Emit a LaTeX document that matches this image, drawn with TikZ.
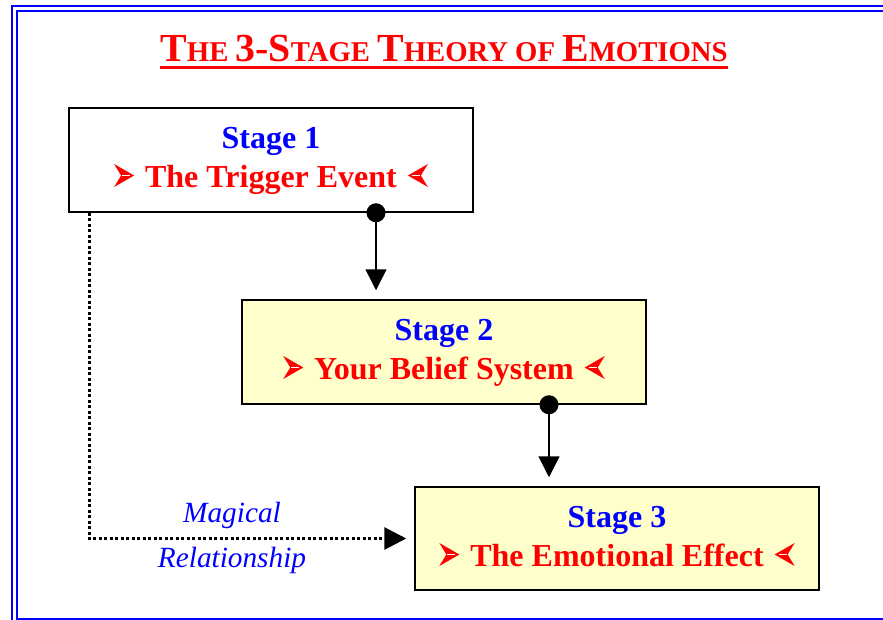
\documentclass[tikz,border=0pt]{standalone}
\usepackage{fontspec}
\setmainfont{Liberation Serif}
\usetikzlibrary{arrows.meta}

\definecolor{stageblue}{RGB}{0,0,255}
\definecolor{stagered}{RGB}{255,0,0}
\definecolor{paleyellow}{RGB}{255,255,204}

\newcommand{\bigsc}[1]{{\fontsize{39.8}{42}\selectfont #1}}
\newcommand{\smallsc}[1]{{\fontsize{28.7}{30}\selectfont #1}}
% arrowhead bullets on both sides of a stage text
\newcommand{\lmark}{\tikz[baseline=0pt, x=1pt, y=1pt]{%
    \fill[stagered] (0,0) -- (20,11.5) -- (0,23) -- (7,11.5) -- cycle;
    \draw[white, line width=0.8pt] (8,11.5) -- (16,11.5);}}
\newcommand{\rmark}{\tikz[baseline=0pt, x=-1pt, y=1pt]{%
    \fill[stagered] (0,0) -- (20,11.5) -- (0,23) -- (7,11.5) -- cycle;
    \draw[white, line width=0.8pt] (8,11.5) -- (16,11.5);}}

\begin{document}
\begin{tikzpicture}[x=1pt, y=-1pt,
    stagebox/.style={draw, line width=1.5pt, minimum width=404pt, minimum height=104pt, inner sep=0pt},
    stagename/.style={anchor=base, inner sep=0pt, text=stageblue, font=\bfseries\fontsize{32}{34}\selectfont},
    stagetext/.style={anchor=base, inner sep=0pt, text=stagered, font=\bfseries\fontsize{32}{34}\selectfont},
    magiclabel/.style={anchor=base, inner sep=0pt, text=stageblue, font=\itshape\fontsize{29.3}{31}\selectfont},
    flow/.style={line width=1.5pt, {Circle[length=19pt]}-{Triangle[width=21pt,length=21pt]}, shorten <=-9.5pt, shorten >=9pt},
    magic/.style={line width=3pt, dash pattern=on 3pt off 2.5pt, -{Triangle[width=22pt,length=22pt]}, shorten >=8pt}]
    \useasboundingbox (0,0) rectangle (883,619);
    \clip (0,0) rectangle (883,619);

    % Page frame
    \draw[stageblue, line width=2pt] (12,6) rectangle (895,624);
    \draw[stageblue, line width=2pt] (17,11) rectangle (890,619);

    % Title
    \node[anchor=base, inner sep=0pt, text=stagered, font=\bfseries\fontsize{28.7}{30}\selectfont] (title) at (444,61)
        {\bigsc{T}\smallsc{HE} \bigsc{3-S}\smallsc{TAGE} \bigsc{T}\smallsc{HEORY OF} \bigsc{E}\smallsc{MOTIONS}};
    \draw[stagered, line width=3pt] ([yshift=-6.5pt]title.base west) -- ([yshift=-6.5pt]title.base east);

    % Nodes for the three stages
    \node[stagebox, fill=white] (s1) at (271,160) {};
    \node[stagebox, fill=paleyellow] (s2) at (444,352) {};
    \node[stagebox, fill=paleyellow, minimum height=103pt] (s3) at (617,538.5) {};

    \node[stagename] (s1name) at (271,148) {Stage 1};
    \node[stagetext] (s1text) at (271,187) {\lmark\hspace{11pt}The Trigger Event\hspace{11pt}\rmark};
    \node[stagename] (s2name) at (444,340) {Stage 2};
    \node[stagetext] (s2text) at (444,379) {\lmark\hspace{11pt}Your Belief System\hspace{11pt}\rmark};
    \node[stagename] (s3name) at (617,527) {Stage 3};
    \node[stagetext] (s3text) at (617,566) {\lmark\hspace{11pt}The Emotional Effect\hspace{11pt}\rmark};

    % Edges between the stages
    \draw[flow] ([xshift=105pt]s1.south) -- ([xshift=105pt]s1.south |- s2.north);
    \draw[flow] ([xshift=105pt]s2.south) -- ([xshift=105pt]s2.south |- s3.north);
    \draw[magic] ([xshift=-182pt]s1.south) |- (s3.west);

    \node[magiclabel] (magical) at (232,522) {Magical};
    \node[magiclabel] (relation) at (232,567) {Relationship};
\end{tikzpicture}
\end{document}
